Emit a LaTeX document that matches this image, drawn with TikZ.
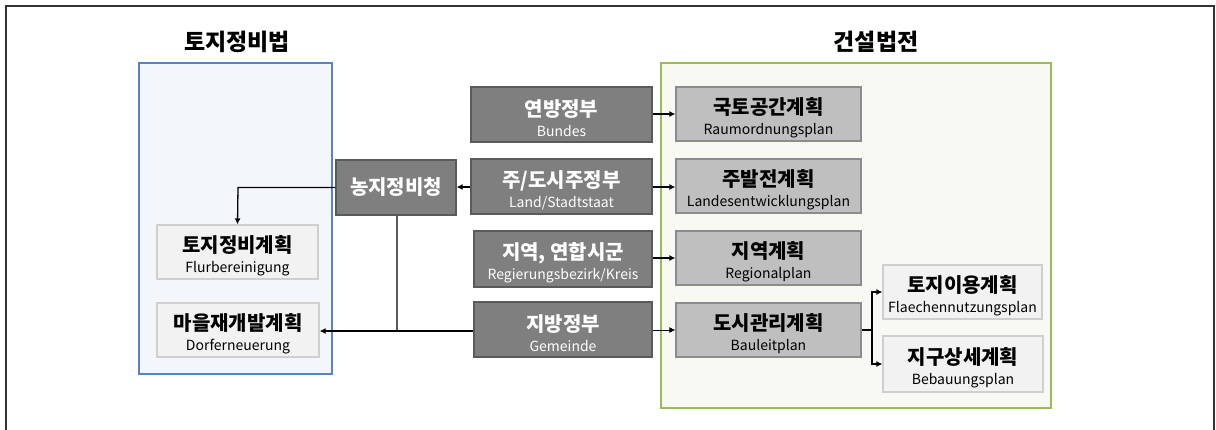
\documentclass[tikz,border=0pt]{standalone}
\usepackage{fontspec}
\setmainfont{Noto Sans CJK KR}
\usetikzlibrary{arrows.meta}
\definecolor{darkfill}{HTML}{7F7F7F}
\definecolor{darkline}{HTML}{5A5A5A}
\definecolor{midfill}{HTML}{BFBFBF}
\definecolor{midline}{HTML}{8C8C8C}
\definecolor{lightfill}{HTML}{F2F2F2}
\definecolor{lightline}{HTML}{CFCFCF}
\definecolor{blueline}{HTML}{5585C5}
\definecolor{bluefill}{HTML}{F3F6FB}
\definecolor{greenline}{HTML}{9BBB59}
\definecolor{greenfill}{HTML}{F7F9F2}
\definecolor{frameline}{HTML}{333333}
\newcommand{\two}[2]{\rule{0pt}{24pt}{\fontsize{20}{24}\selectfont\bfseries #1}\\{#2}}
\tikzset{
  box/.style={rectangle, line width=1.2pt, inner sep=0pt, align=center, font=\fontsize{14}{20.5}\selectfont},
  darkbox/.style={box, draw=darkline, fill=darkfill, text=white},
  midbox/.style={box, draw=midline, fill=midfill, text=black},
  lightbox/.style={box, draw=lightline, fill=lightfill, text=black},
  conn/.style={line width=1.8pt, -{Latex[length=6pt,width=6pt]}},
  thinconn/.style={line width=1pt, -{Latex[length=6pt,width=6pt]}},
  lawtitle/.style={font=\fontsize{23}{26}\selectfont\bfseries, text=black},
}
\begin{document}
\begin{tikzpicture}[x=1pt,y=-1pt]
\useasboundingbox (0,0) rectangle (1216,429);
\draw[frameline, line width=1.2pt] (6,432) -- (6,6) -- (1214,6) -- (1214,432);
% law boxes
\draw[blueline, fill=bluefill, line width=2.5pt] (139,63) rectangle (332,374);
\draw[greenline, fill=greenfill, line width=2.5pt] (661,63) rectangle (1051,408);
\node[lawtitle] (t1) at (237,42) {토지정비법};
\node[lawtitle] (t2) at (876,42) {건설법전};
% left nodes
\node[lightbox, minimum width=161pt, minimum height=54pt] (flur) at (237.5,252) {\two{토지정비계획}{Flurbereinigung}};
\node[lightbox, minimum width=162pt, minimum height=54pt] (dorf) at (238,330) {\two{마을재개발계획}{Dorferneuerung}};
% middle
\node[darkbox, minimum width=120pt, minimum height=55pt, font=\fontsize{20}{24}\selectfont\bfseries] (amt) at (396,187.5) {농지정비청};
\node[darkbox, minimum width=181pt, minimum height=55pt] (bund) at (561.5,114.5) {\two{연방정부}{Bundes}};
\node[darkbox, minimum width=181pt, minimum height=55pt] (land) at (561.5,186.5) {\two{주/도시주정부}{Land/Stadtstaat}};
\node[darkbox, minimum width=178pt, minimum height=56pt] (kreis) at (563,259) {\two{지역, 연합시군}{Regierungsbezirk/Kreis}};
\node[darkbox, minimum width=178pt, minimum height=55pt] (gem) at (563,329.5) {\two{지방정부}{Gemeinde}};
% right
\node[midbox, minimum width=185pt, minimum height=54pt] (raum) at (768.5,114) {\two{국토공간계획}{Raumordnungsplan}};
\node[midbox, minimum width=185pt, minimum height=54pt] (lep) at (768.5,186) {\two{주발전계획}{Landesentwicklungsplan}};
\node[midbox, minimum width=185pt, minimum height=54pt] (reg) at (768.5,258) {\two{지역계획}{Regionalplan}};
\node[midbox, minimum width=185pt, minimum height=54pt] (bau) at (768.5,330) {\two{도시관리계획}{Bauleitplan}};
\node[lightbox, minimum width=159pt, minimum height=54pt] (fnp) at (962.5,292) {\two{토지이용계획}{Flaechennutzungsplan}};
\node[lightbox, minimum width=160pt, minimum height=56pt] (bplan) at (963,364) {\two{지구상세계획}{Bebauungsplan}};
% coordinates
\coordinate (j1) at (238,187.5);
\coordinate (j2) at (397,331);
\coordinate (j3) at (872,330);
% connectors
\draw[conn] (bund.east |- 0,114) -- (raum.west |- 0,114);
\draw[conn] (land.east |- 0,187) -- (lep.west |- 0,187);
\draw[conn] (kreis.east |- 0,258) -- (reg.west |- 0,258);
\draw[thinconn] (gem.east |- 0,330) -- (bau.west |- 0,330);
\draw[conn] (land.west |- 0,187) -- (amt.east |- 0,187);
\draw[thinconn, line width=1.3pt] (amt.west |- j1) -- (j1) -- (flur.north);
\draw[line width=1.3pt, darkline] (amt.south -| j2) -- (j2);
\draw[thinconn, line width=1.3pt] (j2) -- (dorf.east |- j2);
\draw[line width=2pt] (gem.west |- j2) -- (j2);
\draw[line width=1.3pt] (bau.east |- j3) -- (j3);
\draw[thinconn, line width=1.3pt] (j3) |- (fnp.west);
\draw[thinconn, line width=1.3pt] (j3) |- (bplan.west);
\end{tikzpicture}
\end{document}
